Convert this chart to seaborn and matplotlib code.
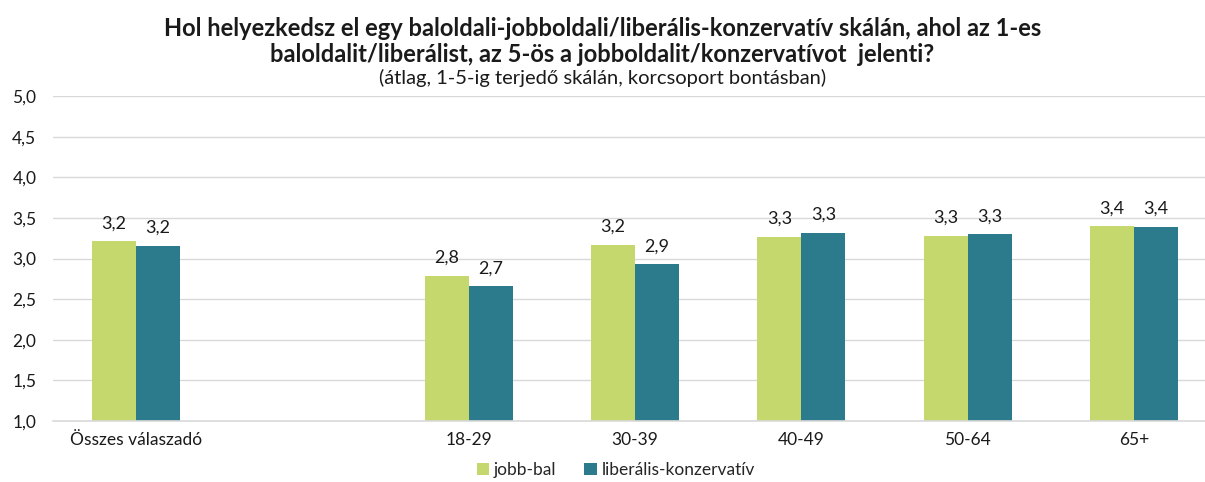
import pandas as pd
import numpy as np
import matplotlib.pyplot as plt
import seaborn as sns

# data
categories = ['Összes válaszadó', ' ', '18-29', '30-39', '40-49', '50-64', '65+']
jobb_bal = [3.21, np.nan, 2.79, 3.17, 3.27, 3.28, 3.40]
lib_konz = [3.16, np.nan, 2.66, 2.93, 3.32, 3.30, 3.39]
series = ['jobb-bal', 'liberális-konzervatív']

df = pd.DataFrame({
    'kat': categories * 2,
    'sorozat': [series[0]] * len(categories) + [series[1]] * len(categories),
    'ertek': jobb_bal + lib_konz,
})

sns.set_style('white')
plt.rcParams['font.family'] = ['Lato', 'DejaVu Sans']

fig = plt.figure(figsize=(12.05, 4.82), dpi=100)
ax = fig.add_axes([53 / 1205, 1 - 421 / 482, 1164 / 1205, 325 / 482])

g = sns.barplot(data=df, x='kat', y='ertek', hue='sorozat', order=categories,
                hue_order=series, palette=['#c5d86d', '#2b7b8c'], saturation=1,
                width=0.53, gap=0, errorbar=None, ax=ax, legend=True)
for bar in ax.patches:
    bar.set_edgecolor('none')

for cont in ax.containers:
    labels = ['' if np.isnan(v) else f'{v:.1f}'.replace('.', ',') for v in cont.datavalues]
    ax.bar_label(cont, labels=labels, padding=7, fontsize=13, color='#1a1a1a')

ax.set_ylim(1, 5)
ax.set_xlim(-0.5, len(categories) - 0.5)
yt = np.arange(1, 5.01, 0.5)
ax.set_yticks(yt)
ax.set_yticklabels([f'{v:.1f}'.replace('.', ',') for v in yt], fontsize=12.5, color='#1a1a1a')
ax.tick_params(axis='y', length=0, pad=12)
ax.tick_params(axis='x', length=0, pad=8, labelsize=12.5, labelcolor='#1a1a1a')
ax.set_xticks(np.arange(0.5, len(categories) - 0.5), minor=True)
ax.tick_params(axis='x', which='minor', length=5, color='#d9d9d9', width=1)
ax.yaxis.grid(True, color='#d9d9d9', linewidth=1)
ax.set_axisbelow(True)
for s in ['top', 'right', 'left']:
    ax.spines[s].set_visible(False)
ax.spines['bottom'].set_color('#d9d9d9')
ax.spines['bottom'].set_linewidth(1.2)
ax.set_xlabel('')
ax.set_ylabel('')

leg = ax.legend(loc='center', bbox_to_anchor=(616 / 1205, 1 - 470 / 482),
                bbox_transform=fig.transFigure, ncol=2, frameon=False,
                fontsize=12.5, handlelength=0.7, handleheight=0.7,
                handletextpad=0.3, columnspacing=1.6)

fig.text(0.5, 1 - 29 / 482, 'Hol helyezkedsz el egy baloldali-jobboldali/liberális-konzervatív skálán, ahol az 1-es',
         ha='center', va='center', fontsize=17, fontweight='bold', color='#1a1a1a')
fig.text(0.5, 1 - 55 / 482, 'baloldalit/liberálist, az 5-ös a jobboldalit/konzervatívot  jelenti?',
         ha='center', va='center', fontsize=17, fontweight='bold', color='#1a1a1a')
fig.text(0.5, 1 - 78 / 482, '(átlag, 1-5-ig terjedő skálán, korcsoport bontásban)',
         ha='center', va='center', fontsize=14.5, color='#1a1a1a')

plt.savefig('out.png', dpi=100)
